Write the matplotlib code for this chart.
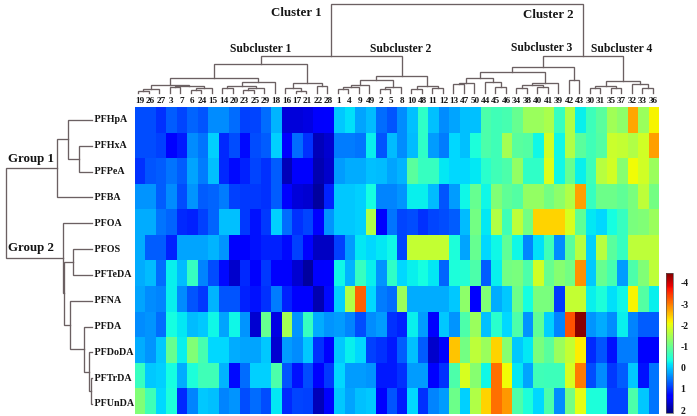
import matplotlib
matplotlib.use("Agg")
import matplotlib.pyplot as plt
import numpy as np

W, H = 697, 416
SERIF = "Liberation Serif"
LINE = "#6b6062"

columns = [19, 26, 27, 3, 7, 6, 24, 15, 14, 20, 23, 25, 29, 18, 16, 17, 21, 22, 28,
           1, 4, 9, 49, 2, 5, 8, 10, 48, 11, 12, 13, 47, 50, 44, 45, 46, 34, 38, 40, 41,
           39, 42, 43, 30, 31, 35, 37, 32, 33, 36]
rows = ["PFHpA", "PFHxA", "PFPeA", "PFBA", "PFOA", "PFOS", "PFTeDA", "PFNA", "PFDA",
        "PFDoDA", "PFTrDA", "PFUnDA"]

# values with the colour bar, one list per row
PFHpA = [.8, .8, 1.0, .7, .85, .65, .75, .4, .4, .6, .9, .85, .6, .15, 1.6, 1.6, 1.55, 1.4, 1.3,
         0, -.15, .25, .1, .6, .75, .4, .05, -.55, .05, .4, .25, .05, .05, -.8, -.7, -.75,
         -1.0, -1.4, -1.4, -1.55, -.6, -1.6, -.25, -.65, -.9, -1.45, -1.3, -2.7, -1.4, -2.15]
PFHxA = [.8, .8, .9, 1.3, 1.15, .4, .55, -.05, 1.05, .8, 1.25, .8, .7, -.05, 1.35, .6, 1.0, 1.8, 1.65,
         .5, .5, .55, -.25, .75, .1, .4, .1, -.55, .3, .5, -.1, .05, -.4, -.8, -.7, -1.5,
         -.9, -.85, -.3, -1.85, -.3, -1.6, -.9, -.7, -.85, -1.8, -1.75, -1.6, -1.85, -2.75]
PFPeA = [1.0, .75, .7, .55, .7, .25, .5, .05, 1.05, 1.25, 1.1, .85, 1.0, .7, 1.8, 1.4, 1.4, 1.85, 1.7,
         .3, .2, .2, .05, .1, .25, .15, -.9, -.6, -.6, -.2, -.1, -.1, -.2, -.5, -.7, -.8,
         -1.35, -.55, -.55, -1.95, -.3, -1.0, -.25, -.65, -1.65, -1.85, -1.25, -2.1, -1.85, -1.4]
PFBA = [.35, .35, .7, .4, .8, .35, .7, .65, .5, .9, .95, .95, 1.0, .7, 1.35, 1.6, 1.65, 1.95, 1.1,
        0, 0, -.05, -.35, .45, .45, .35, -.25, -.25, .1, .75, .3, -.3, -1.0, -.3, -1.2, -.95,
        -.85, -1.35, -1.35, -1.1, -1.3, -1.6, -2.75, -.6, -1.05, -1.05, -.95, -1.15, -1.7, -1.1]
PFOA = [.2, .2, .55, .65, 1.05, 1.1, .9, .65, .05, .05, .95, 1.2, .95, -.05, .6, 1.0, .85, 1.35, .35,
        0, 0, -.05, -1.6, 1.4, .55, .85, .8, 1.0, .85, .8, .7, .1, -1.1, -.2, -1.6, -.7,
        -1.7, -1.1, -2.4, -2.4, -2.4, -1.9, -.95, -.2, -.1, -.35, -.6, -1.15, -1.2, -1.4]
PFOS = [.2, .7, .7, 1.1, .25, .25, .25, .15, .35, 1.4, 1.3, 1.2, 1.1, 1.1, 1.25, .9, 1.3, 1.75, 1.75,
        .9, .3, -.2, -.1, -.2, -.3, .85, -1.75, -1.75, -1.75, -1.75, -.4, .25, -1.0, -.1, -.3, -.95,
        -.3, .45, -.15, -.7, .4, -.9, -1.65, -.05, -1.65, -.9, -.6, -1.7, -1.7, -1.7]
PFTeDA = [.2, .1, .6, -.25, .1, -.6, .45, .8, 1.25, 1.7, 1.05, 1.4, .95, 1.4, 1.4, 1.65, 1.95, 1.4, 1.3,
          -.3, .15, -.6, -.25, .35, -.55, -.1, -.25, -.35, -.2, .65, -.4, -.45, -.8, .7, -.25, -1.1,
          -1.15, -.8, -1.85, -1.0, -1.25, -1.1, -2.85, 0, -1.0, -.75, .3, -.8, -1.2, -1.7]
PFNA = [.25, .4, .45, -.25, .4, .75, .95, .15, .75, .75, 1.1, 1.2, 1.0, .5, 1.1, 1.4, 1.4, 1.85, 1.25,
        -.05, -1.6, -3.2, -.1, .5, .6, -1.4, .2, .2, .2, .2, 0, -1.3, 1.3, -1.2, .2, 0,
        -1.05, -.35, -1.15, -1.15, .95, -1.75, -1.75, -.25, -.4, -.15, -.3, -2.15, -.85, -.25]
PFDA = [.4, .35, .6, -.35, -.2, .1, 0, -.3, .25, -.3, .35, 1.65, -1.0, 1.55, -1.5, .35, -.6, .2, .35,
        .3, .45, .8, .4, .3, 1.0, 1.1, -.25, .3, 1.3, 0, .35, -.8, -1.4, .05, -.5, -.1,
        -.8, .35, -.95, -.05, .45, -3.3, -4.4, .35, .2, .4, -.25, .45, .7, .7]
PFDoDA = [.2, .35, 0, -1.0, -.25, -1.2, -.75, -.1, -.1, .2, .25, .25, 0, 1.65, .3, .4, 0, 1.0, 1.35,
          0, -.25, -.1, .9, 1.0, 1.15, .7, .05, .7, 1.7, 1.4, -2.5, -1.1, -1.7, -1.4, -2.4, -1.25,
          0, -.2, -1.15, -.9, -1.4, -1.75, -2.2, 1.05, .75, 1.2, .5, .5, 1.35, 1.35]
PFTrDA = [-.6, 0, -.05, -.35, .2, -.4, -.7, -.7, .15, 1.25, .6, -.05, -.05, -.8, .75, 1.2, .8, 1.4, .95,
          -.1, .3, .3, .35, 1.15, 1.15, 1.0, .3, .3, 1.35, 1.0, -.8, -1.9, -1.25, -.3, -3.1, -2.1,
          -.2, .25, -.7, -.65, -.65, -1.9, -3.0, .8, .4, .95, .7, 0, 1.2, .55]
PFUnDA = [-1.2, -.7, -.1, -.4, 1.05, .45, 0, .05, .45, .35, .8, .6, .8, -.2, 1.05, .85, .9, 1.8, 1.3,
          0, .25, .05, 0, 1.3, .75, 1.15, -.1, 1.0, .45, .3, -1.05, -.05, -1.6, -2.4, -3.1, -2.8,
          -.8, -.4, -.1, -.8, .4, -1.1, -2.0, -.4, -.4, .85, .85, -.8, 0, .55]
values = [PFHpA, PFHxA, PFPeA, PFBA, PFOA, PFOS, PFTeDA, PFNA, PFDA, PFDoDA, PFTrDA, PFUnDA]

cbar_ticks = [-4, -3, -2, -1, 0, 1, 2]

# dendrograms as (height, left, right), a leaf is a column number or a row name
sub1_a = (8.3, (4, (1.7, 19, 26), 27), (6.7, (5.7, 3, 7), (5.3, (3, 6, 24), 15)))
sub1_b = (11.3, (7, (4.7, 14, 20), (4.7, (3, 23, 25), 29)), 18)
sub1_c = (9.7, (5.3, 16, (2.3, 17, 21)), (7, 22, 28))
subcluster1 = (28.7, (14.7, sub1_a, sub1_b), sub1_c)
sub2_a = (13, (8.3, (5.7, (3.7, 1, 4), 9), 49), (5.7, (3.7, 2, 5), 8))
subcluster2 = (16.7, sub2_a, (7.3, (3.7, 10, 48), (5, 11, 12)))
sub3_a = (15.3, (10, (9, 13, 47), 50), (10.7, 44, (6.3, 45, 46)))
sub3_b = (10.3, (7.7, (5, 34, 38), (5.7, 40, 41)), 39)
subcluster3 = (26, (21.3, sub3_a, sub3_b), (12.7, 42, 43))
subcluster4 = (12.3, (7.3, (4.7, 30, 31), (4.7, 35, 37)), (9, 32, (4.7, 33, 36)))
cluster1 = (37.3, subcluster1, subcluster2)
cluster2 = (37.3, subcluster3, subcluster4)
column_tree = (89, cluster1, cluster2)

group1 = (35.3, (23.7, "PFHpA", (13, "PFHxA", "PFPeA")), "PFBA")
acids = (21.7, "PFNA", (7.7, "PFDA", (2.7, "PFDoDA", (1.3, "PFTrDA", "PFUnDA"))))
group2 = (29.3, "PFOA", (27.7, (19.3, "PFOS", "PFTeDA"), acids))
row_tree = (86, group1, group2)


def axes_px(fig, left, top, right, bottom):
    return fig.add_axes([left / W, 1 - bottom / H, (right - left) / W, (bottom - top) / H])


# draws one tree and gives back the position and height of its top
def draw_tree(ax, node, order, horizontal):
    if not isinstance(node, tuple):
        return order.index(node), 0
    height, left, right = node
    p1, h1 = draw_tree(ax, left, order, horizontal)
    p2, h2 = draw_tree(ax, right, order, horizontal)
    pos = [p1, p1, p2, p2]
    hts = [h1, height, height, h2]
    if horizontal:
        ax.plot(hts, pos, color=LINE, lw=0.95, solid_joinstyle="miter", clip_on=False)
    else:
        ax.plot(pos, hts, color=LINE, lw=0.95, solid_joinstyle="miter", clip_on=False)
    return (p1 + p2) / 2, height


def label(x, y, text, size):
    fig.text(x / W, 1 - y / H, text, family=SERIF, weight="bold", size=size,
             ha="center", va="center", color="#151515")


fig = plt.figure(figsize=(W / 100, H / 100), dpi=100)

ax = axes_px(fig, 134.7, 107, 658, 414)
im = ax.imshow(np.array(values), cmap="jet_r", vmin=-4.47, vmax=2.14, aspect="auto",
               interpolation="nearest")
ax.set_xticks(range(len(columns)), [str(c) for c in columns], family=SERIF, weight="bold", size=6.6)
ax.xaxis.tick_top()
ax.tick_params(axis="x", length=0, pad=1.2, colors="#151515")
ax.set_yticks([])
for s in ax.spines.values():
    s.set_visible(False)

top = axes_px(fig, 138, 4, 653, 93)
draw_tree(top, column_tree, columns, False)
top.set_xlim(0, len(columns) - 1)
top.set_ylim(0, 89)
top.axis("off")

left = axes_px(fig, 6, 120, 92, 404)
draw_tree(left, row_tree, rows, True)
left.set_xlim(86, 0)
left.set_ylim(len(rows) - 1, 0)
left.axis("off")
for i, name in enumerate(rows):
    left.text(0, i, " " + name, family=SERIF, weight="bold", size=7.2, ha="left", va="center",
              color="#151515", clip_on=False)

label(296.7, 13.5, "Cluster 1", 9.3)
label(548, 15, "Cluster 2", 9.3)
label(260.7, 49, "Subcluster 1", 8.4)
label(401, 49, "Subcluster 2", 8.4)
label(542, 48, "Subcluster 3", 8.4)
label(622, 49, "Subcluster 4", 8.4)
label(31, 159, "Group 1", 9.3)
label(31, 248, "Group 2", 9.3)

cax = axes_px(fig, 665.7, 273, 673, 413)
cbar = fig.colorbar(im, cax=cax, ticks=cbar_ticks)
cax.invert_yaxis()
cbar.ax.set_yticklabels([str(t) for t in cbar_ticks], family=SERIF, weight="bold", size=7)
cbar.ax.tick_params(length=0, pad=5.5, colors="#151515")
cbar.outline.set_linewidth(0.5)
cbar.outline.set_edgecolor("#555555")

fig.savefig("out.png", dpi=100)
